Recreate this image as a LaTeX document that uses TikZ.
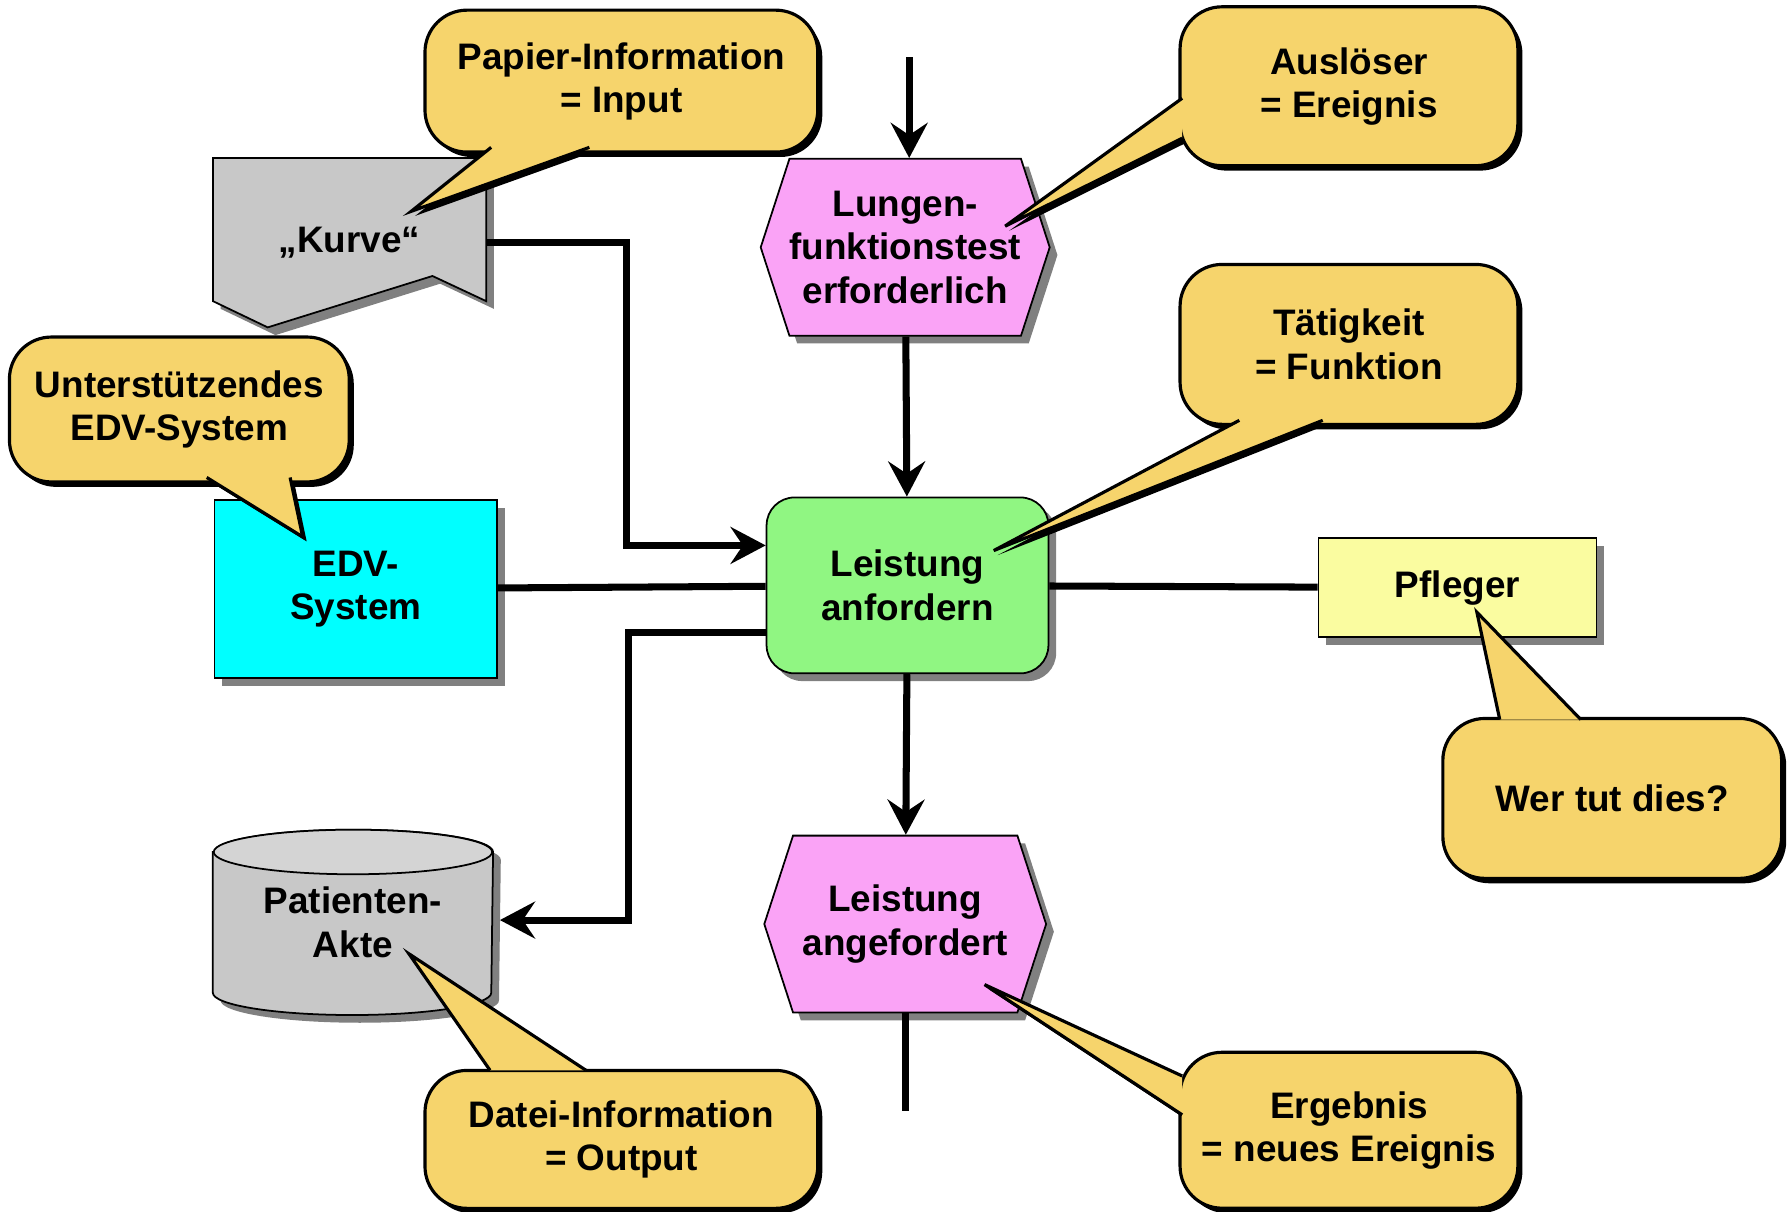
\documentclass[tikz,border=0pt]{standalone}
\usepackage{fontspec}
\setmainfont{Liberation Sans}
\setsansfont{Liberation Sans}
\definecolor{notefill}{RGB}{246,212,108}
\definecolor{eventpink}{RGB}{250,163,246}
\definecolor{funcgreen}{RGB}{144,246,130}
\definecolor{edvcyan}{RGB}{0,255,255}
\definecolor{rolecol}{RGB}{250,252,160}
\definecolor{papergray}{RGB}{200,200,200}
\definecolor{filegray}{RGB}{212,212,212}
\definecolor{shadowgray}{RGB}{128,128,128}
\tikzset{every picture/.style={/utils/exec={\sffamily}}}
\usetikzlibrary{calc}
\usetikzlibrary{positioning}
\usetikzlibrary{shapes.symbols,shadows,backgrounds,arrows.meta}
\tikzset{
  lbl/.style={font=\bfseries\fontsize{10.5}{12.3}\selectfont, align=center, inner sep=0pt},
  gshadow/.style={drop shadow={shadow xshift=2.2pt, shadow yshift=-2.2pt, fill=shadowgray, opacity=1}},
  event/.style={lbl, signal, signal to=west and east, signal pointer angle=144, draw, line width=0.5pt,
    fill=eventpink, gshadow, minimum width=2.82cm, minimum height=1.77cm},
  func/.style={lbl, draw, line width=0.5pt, rounded corners=0.28cm, fill=funcgreen, gshadow,
    minimum width=2.82cm, minimum height=1.76cm},
  system/.style={lbl, draw, line width=0.5pt, fill=edvcyan, gshadow, minimum width=2.83cm, minimum height=1.78cm},
  role/.style={lbl, draw, line width=0.5pt, fill=rolecol, gshadow, minimum width=2.78cm, minimum height=0.99cm},
  note/.style={lbl, draw, line width=0.9pt, rounded corners=0.42cm, fill=notefill,
    drop shadow={shadow xshift=1.3pt, shadow yshift=-1.4pt, fill=black, opacity=1}},
  notetip/.style={draw, line width=0.9pt, fill=notefill, line join=miter},
  tipshadow/.style={fill=black, shift={(3.5,4)}},
  flow/.style={line width=2pt, -{Stealth[length=10pt, width=10.5pt, inset=3.5pt]}},
  link/.style={line width=2pt},
}

\begin{document}
\begin{tikzpicture}[x=0.011422cm, y=-0.011422cm]
  \useasboundingbox (0,0) rectangle (1568,1061);

  \node[lbl, minimum width=2.72cm, minimum height=1.68cm] (kurve) at (306,212.5) {„Kurve“};
  \node[lbl, minimum width=2.79cm, minimum height=1.84cm] (akte) at (309,807.5) {Patienten-\\Akte};
  \begin{scope}[on background layer]
    \draw[fill=papergray, line width=0.5pt, gshadow] (kurve.north west) -- (kurve.north east)
      -- ($(kurve.south east)+(0,-23)$) -- ($(kurve.south east)+(-47,-45)$)
      -- ($(kurve.south west)+(48,0)$) -- ($(kurve.south west)+(0,-23)$) -- cycle;
    \draw[fill=papergray, line width=0.5pt, gshadow] ($(akte.north west)+(0,19.5)$)
      -- ($(akte.south west)+(0,-19.5)$) arc[start angle=180, end angle=360, x radius=1.393cm, y radius=0.223cm]
      -- ($(akte.north east)+(0,19.5)$) arc[start angle=0, end angle=180, x radius=1.393cm, y radius=0.223cm]
      -- cycle;
    \draw[fill=filegray, line width=0.5pt] ($(akte.north)+(0,19.5)$) ellipse[x radius=1.393cm, y radius=0.223cm];
  \end{scope}

  \node[event] (lft) at (792.5,216.5) {Lungen-\\funktionstest\\erforderlich};
  \node[func] (leistanf) at (794.5,512.5) {Leistung\\anfordern};
  \node[event] (lang) at (792.5,809) {Leistung\\angefordert};
  \node[system] (edv) at (311.5,515.5) {EDV-\\System};
  \node[role] (pfleger) at (1276,514.5) {Pfleger};

  \coordinate (trigger) at (796,50);
  \coordinate (result) at (796,973);
  \draw[flow] (trigger) -- (trigger |- lft.north);
  \draw[flow] (lft) -- (leistanf);
  \draw[flow] (leistanf) -- (lang);
  \draw[link] (lang.south) -- (lang.south |- result);
  \draw[flow] (kurve.east) -- ++(123,0) |- ($(leistanf.west)+(0,-35)$);
  \draw[flow] ($(leistanf.west)+(0,41)$) -- ++(-120,0) |- ($(akte.east)+(6,-2)$);
  \draw[link] (edv) -- (leistanf);
  \draw[link] (leistanf) -- (pfleger);

  % Papier-Information
  \fill[tipshadow] (430,129) -- (360,185) -- (516,129) -- cycle;
  \node[note, minimum width=3.93cm, minimum height=1.42cm] (papier) at (544,71) {Papier-Information\\= Input};
  \draw[notetip] (430,129) -- (360,185) -- (516,129);

  % Ausloeser
  \fill[tipshadow] (1035,86) -- (880,198) -- (1035,121) -- cycle;
  \node[note, minimum width=3.38cm, minimum height=1.59cm] (ausl) at (1181,75.5) {Auslöser\\= Ereignis};
  \draw[notetip] (1035,86) -- (880,198) -- (1035,121);

  % Taetigkeit
  \fill[tipshadow] (1085,368) -- (870,482) -- (1158,368) -- cycle;
  \node[note, minimum width=3.38cm, minimum height=1.60cm] (taetig) at (1181,301.5) {Tätigkeit\\= Funktion};
  \draw[notetip] (1085,368) -- (870,482) -- (1158,368);

  % EDV
  \fill[tipshadow] (181,418) -- (265,470) -- (254,418) -- cycle;
  \node[note, minimum width=3.40cm, minimum height=1.45cm] (unterst) at (157,358.5) {Unterstützendes\\EDV-System};
  \draw[notetip] (181,418) -- (265,470) -- (254,418);

  % Pfleger
  \fill[tipshadow] (1313,630) -- (1293,536) -- (1384,630) -- cycle;
  \node[note, minimum width=3.39cm, minimum height=1.60cm] (wer) at (1411.5,699) {Wer tut dies?};
  \draw[notetip] (1313,630) -- (1293,536) -- (1384,630);

  % Datei
  \fill[tipshadow] (429,937) -- (358,835) -- (513,937) -- cycle;
  \node[note, minimum width=3.93cm, minimum height=1.38cm] (datei) at (544,997.5) {Datei-Information\\= Output};
  \draw[notetip] (429,937) -- (358,835) -- (513,937);

  % Ergebnis
  \fill[tipshadow] (1035,942) -- (862,862) -- (1035,976) -- cycle;
  \node[note, minimum width=3.38cm, minimum height=1.56cm] (ergeb) at (1181,989.5) {Ergebnis\\= neues Ereignis};
  \draw[notetip] (1035,942) -- (862,862) -- (1035,976);
\end{tikzpicture}
\end{document}
